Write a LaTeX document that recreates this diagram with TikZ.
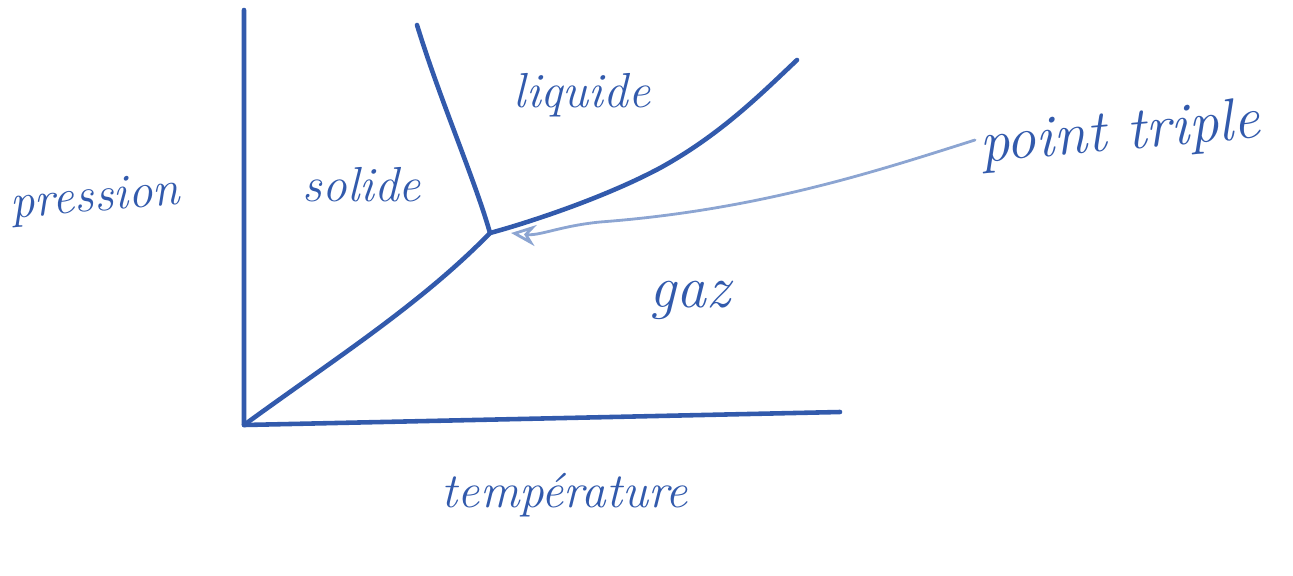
\documentclass[tikz,border=0pt]{standalone}
\usetikzlibrary{arrows.meta}
\definecolor{ink}{RGB}{50,90,172}
\definecolor{faint}{RGB}{140,165,210}
\begin{document}
\begin{tikzpicture}[x=0.02cm,y=-0.02cm,
  curve/.style={draw=ink,line width=2.6pt,line cap=round,line join=round},
  lbl/.style={text=ink,font=\fontsize{28}{30}\selectfont\itshape,inner sep=0pt},
  pointer/.style={draw=faint,line width=1.6pt,line cap=round,-{Stealth[open,length=14pt,width=12pt]}}]
\useasboundingbox (0,0) rectangle (1293,575);
\coordinate (O) at (244,425);
\coordinate (ytop) at (244,10);
\coordinate (xend) at (840,412);
\coordinate (T) at (490,233);
\coordinate (ftop) at (417,25);
\coordinate (vend) at (797,60);
\coordinate (ptail) at (975,140);
% axes
\draw[curve] (ytop) -- (O) -- (xend);
% sublimation curve
\draw[curve] (O) .. controls (330,362) and (420,305) .. (T);
% fusion curve
\draw[curve] (ftop) .. controls (440,100) and (475,180) .. (T);
% vaporisation curve
\draw[curve] (T) .. controls (520,225) and (600,200) .. (660,168) .. controls (720,135) and (760,95) .. (vend);
% labels
\node[lbl,rotate=5] (p) at (95,200) {pression};
\node[lbl] (s) at (362,185) {solide};
\node[lbl] (l) at (582,95) {liquide};
\node[lbl,font=\fontsize{34}{36}\selectfont\itshape] (g) at (690,300) {gaz};
\node[lbl,font=\fontsize{34}{36}\selectfont\itshape,rotate=5] (pt) at (1120,135) {point triple};
\node[lbl] (t) at (565,495) {température};
% pointer arrow
\draw[pointer] (ptail) .. controls (880,170) and (760,210) .. (600,222) .. controls (560,226) and (540,236) .. ([xshift=12]T);
\end{tikzpicture}
\end{document}
